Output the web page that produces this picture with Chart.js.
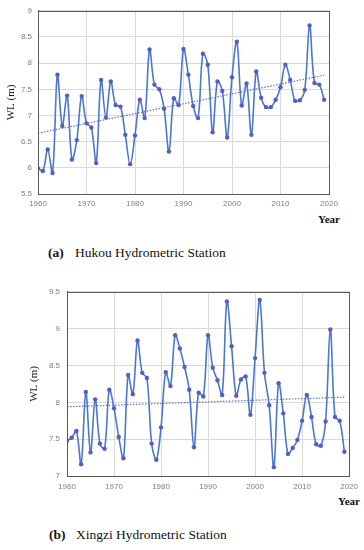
<!DOCTYPE html>
<html>
<head>
<meta charset="utf-8">
<script src="https://cdn.jsdelivr.net/npm/chart.js@4"></script>
<style>
  body { margin: 0; background: #fff; width: 364px; height: 550px; position: relative; overflow: hidden; }
  .box { position: absolute; left: 0; width: 364px; }
  .lbl { position: absolute; font-family: "Liberation Serif", serif; color: #111; white-space: nowrap; }
  .year { font-size: 11px; font-weight: bold; }
  .cap { font-size: 13.5px; }
  .cap b { display: inline-block; width: 27px; }
</style>
</head>
<body>
<div class="box" style="top:0;height:210px"><canvas id="chartA"></canvas></div>
<div class="box" style="top:280px;height:215px"><canvas id="chartB"></canvas></div>
<div class="lbl year" style="left:318px;top:213px">Year</div>
<div class="lbl year" style="left:338px;top:495px">Year</div>
<div class="lbl cap" style="left:48px;top:245px"><b>(a)</b>Hukou Hydrometric Station</div>
<div class="lbl cap" style="left:49px;top:527px"><b>(b)</b>Xingzi Hydrometric Station</div>
<script>
var years = [];
for (var y = 1960; y <= 2019; y++) years.push(y);

// Hukou annual water level (m)
var hukou = [5.99, 5.94, 6.35, 5.90, 7.78, 6.80, 7.38, 6.16, 6.53, 7.37,
             6.85, 6.77, 6.09, 7.68, 6.96, 7.65, 7.20, 7.17, 6.63, 6.07,
             6.62, 7.30, 6.95, 8.26, 7.59, 7.50, 7.13, 6.31, 7.33, 7.20,
             8.27, 7.78, 7.18, 6.95, 8.18, 7.97, 6.68, 7.65, 7.47, 6.58,
             7.73, 8.41, 7.19, 7.61, 6.63, 7.84, 7.34, 7.16, 7.16, 7.30,
             7.54, 7.97, 7.68, 7.28, 7.29, 7.49, 8.72, 7.62, 7.59, 7.30];
var hukouTrend = [6.66, 7.77];

// Xingzi annual water level (m)
var xingzi = [7.48, 7.52, 7.61, 7.16, 8.14, 7.32, 8.04, 7.44, 7.37, 8.17,
              7.92, 7.53, 7.24, 8.37, 8.11, 8.84, 8.40, 8.33, 7.44, 7.22,
              7.66, 8.41, 8.22, 8.91, 8.73, 8.48, 8.17, 7.39, 8.13, 8.08,
              8.91, 8.47, 8.30, 8.10, 9.37, 8.76, 8.09, 8.31, 8.35, 7.83,
              8.60, 9.39, 8.40, 7.96, 7.12, 8.26, 7.85, 7.30, 7.38, 7.49,
              7.75, 8.10, 7.80, 7.43, 7.41, 7.74, 8.99, 7.80, 7.75, 7.33];
var xingziTrend = [7.94, 8.07];

var trendYears = [1960, 2019];

// draw the box round the plot area
var frame = {
  id: 'frame',
  afterDraw: function (chart) {
    var a = chart.chartArea, c = chart.ctx;
    c.save();
    c.strokeStyle = '#595959';
    c.lineWidth = 1;
    c.strokeRect(Math.round(a.left) + 0.5, Math.round(a.top) + 0.5,
                 Math.round(a.right - a.left), Math.round(a.bottom - a.top));
    c.restore();
  }
};

function makeChart(id, vals, trend, ymin, ymax, opt) {
  var pts = years.map(function (y, i) { return { x: y, y: vals[i] }; });
  var tr = trendYears.map(function (y, i) { return { x: y, y: trend[i] }; });
  return new Chart(document.getElementById(id), {
    type: 'line',
    data: {
      datasets: [{
        data: pts,
        borderColor: '#4a78cc',
        borderWidth: 1.6,
        tension: 0.35,
        pointRadius: 2.2,
        pointBackgroundColor: '#5a5cc6',
        pointBorderColor: '#5a5cc6',
        pointBorderWidth: 0
      }, {
        data: tr,
        borderColor: '#6f6cc4',
        borderWidth: 1.2,
        borderDash: [1.5, 1.5],
        pointRadius: 0
      }]
    },
    options: {
      responsive: true,
      maintainAspectRatio: false,
      animation: false,
      layout: { padding: { top: 9, right: opt.right, left: 0, bottom: 0 } },
      plugins: { legend: { display: false }, tooltip: { enabled: false } },
      scales: {
        x: {
          type: 'linear', min: 1960, max: 2020,
          grid: { color: '#dadada', drawTicks: false },
          border: { color: '#595959' },
          ticks: {
            stepSize: 10, padding: opt.xpad, color: '#7f7f7f',
            font: { family: 'Liberation Sans', size: 8 },
            callback: function (v) { return String(v); }
          },
          afterFit: function (s) { s.height = opt.xh; }
        },
        y: {
          min: ymin, max: ymax,
          grid: { color: '#dadada', drawTicks: false },
          border: { color: '#595959' },
          ticks: {
            stepSize: 0.5, padding: opt.ypad, color: '#7f7f7f',
            font: { family: 'Liberation Sans', size: 8 },
            callback: function (v) { return String(Math.round(v * 10) / 10); }
          },
          title: {
            display: true, text: 'WL (m)', color: '#222',
            font: { family: 'Liberation Serif', size: 11 },
            padding: { top: opt.tpad, bottom: 0 }
          },
          afterFit: function (s) { s.width = opt.yw; }
        }
      }
    },
    plugins: [frame]
  });
}

makeChart('chartA', hukou, hukouTrend, 5.5, 9,
  { right: 35, xh: 16, yw: 38, xpad: 5, ypad: 6, tpad: 5 });
makeChart('chartB', xingzi, xingziTrend, 7, 9.5,
  { right: 14, xh: 19, yw: 67, xpad: 6, ypad: 7, tpad: 28 });
</script>
</body>
</html>
